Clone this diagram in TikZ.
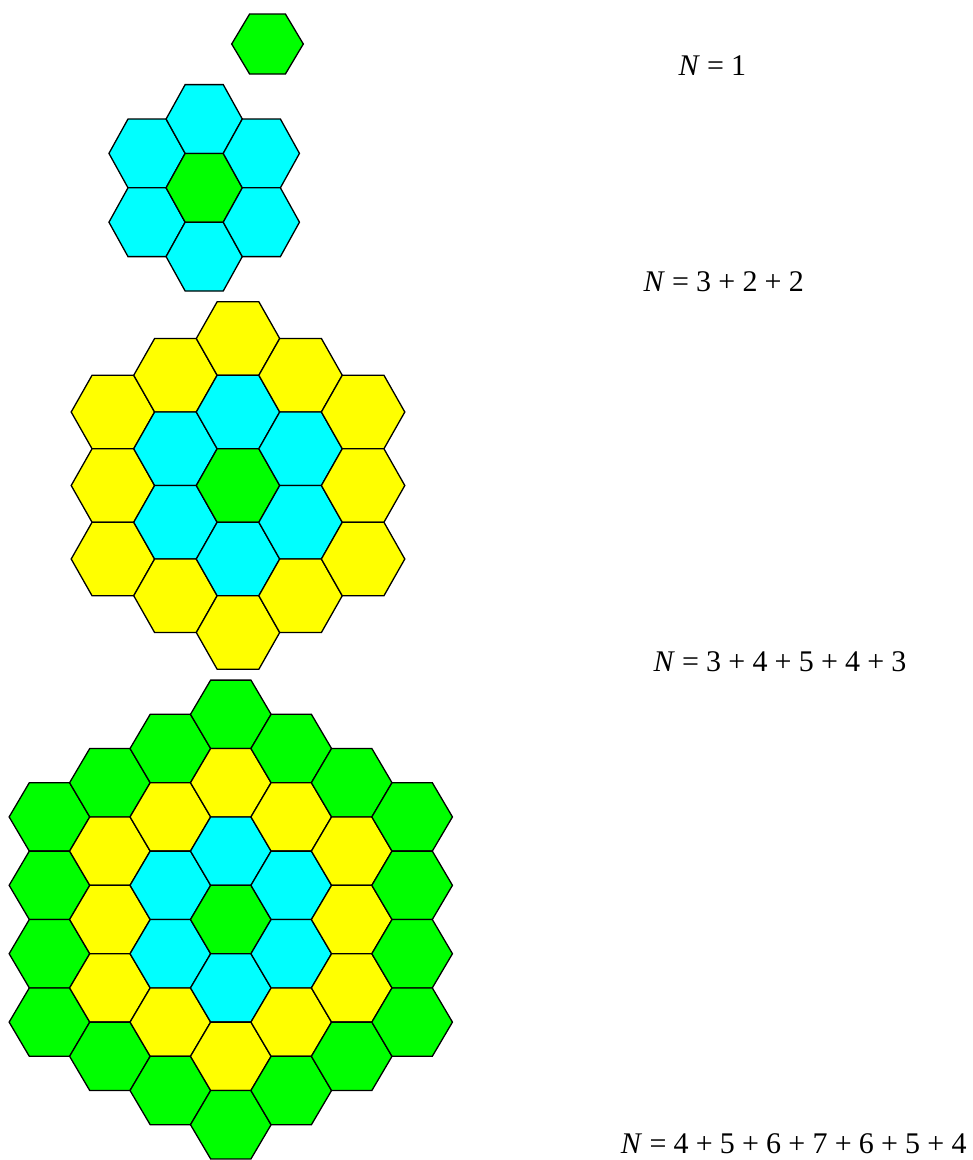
\documentclass[tikz,border=0pt]{standalone}
\usepackage{fontspec}
\setmainfont{Liberation Serif}
\definecolor{hgreen}{RGB}{0,255,0}
\definecolor{hcyan}{RGB}{0,255,255}
\definecolor{hyellow}{RGB}{255,255,0}
\tikzset{
  hexcell/.style={draw=black, line width=1.3pt, line join=miter},
  eqlabel/.style={anchor=base west, inner sep=0pt, font=\fontsize{30}{36}\selectfont}
}
\newcommand{\gp}{\hspace{7.2pt}}
% #1 cx, #2 cy, #3 R, #4 H, #5 rings
\newcommand{\hexcluster}[5]{%
  \foreach \q in {-#5,...,#5}{%
    \foreach \r in {-#5,...,#5}{%
      \pgfmathtruncatemacro{\dd}{max(abs(\q),abs(\r),abs(\q+\r))}%
      \ifnum\dd>#5\relax\else
        \pgfmathsetmacro{\hx}{#1+1.5*#3*\q}%
        \pgfmathsetmacro{\hy}{#2+#4*(\r+\q/2)}%
        \ifcase\dd \def\hc{hgreen}\or \def\hc{hcyan}\or \def\hc{hyellow}\or \def\hc{hgreen}\fi
        \filldraw[hexcell, fill=\hc, shift={(\hx,\hy)}]
          (-#3,0) -- (-#3/2,-#4/2) -- (#3/2,-#4/2) -- (#3,0)
          -- (#3/2,#4/2) -- (-#3/2,#4/2) -- cycle;
      \fi
    }%
  }%
}
\begin{document}
\begin{tikzpicture}[x=1pt, y=-1pt]
\fill[white] (0,0) rectangle (973,1160);
\useasboundingbox (0,0) rectangle (973,1160);
% cluster 1
\filldraw[hexcell, fill=hgreen, shift={(267.5,44)}]
  (-35.8,0) -- (-17.9,-30) -- (17.9,-30) -- (35.8,0) -- (17.9,30) -- (-17.9,30) -- cycle;
% cluster 2
\hexcluster{204.2}{187.8}{38.1}{68.8}{1}
% cluster 3
\hexcluster{238}{485.5}{41.7}{73.5}{2}
% cluster 4
\hexcluster{230.8}{919.5}{40.3}{68.4}{3}
% labels
\node[eqlabel] (lab1) at (678.3,75) {\textit{N}\gp=\gp1};
\node[eqlabel] (lab2) at (643.3,291.7) {\textit{N}\gp=\gp3\gp+\gp2\gp+\gp2};
\node[eqlabel] (lab3) at (653.3,671) {\textit{N}\gp=\gp3\gp+\gp4\gp+\gp5\gp+\gp4\gp+\gp3};
\node[eqlabel] (lab4) at (620.7,1153) {\textit{N}\gp=\gp4\gp+\gp5\gp+\gp6\gp+\gp7\gp+\gp6\gp+\gp5\gp+\gp4};
\end{tikzpicture}
\end{document}
